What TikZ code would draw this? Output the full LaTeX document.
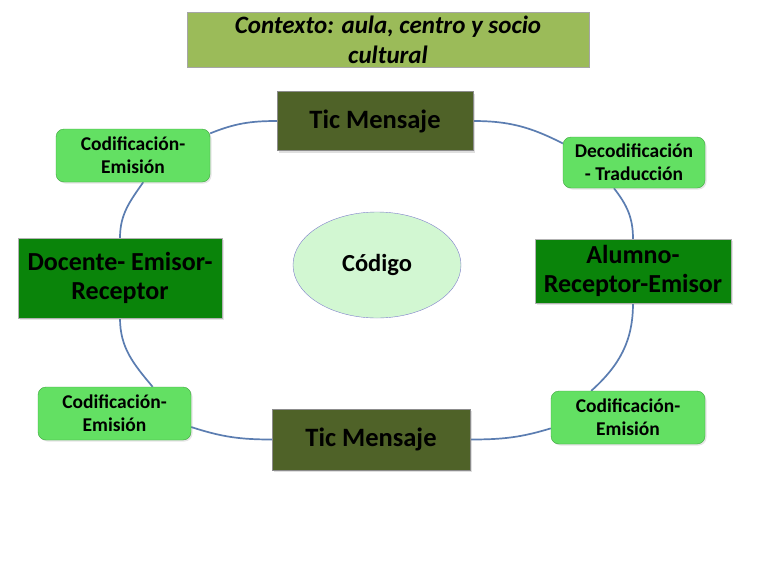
\documentclass[tikz,border=0pt]{standalone}
\usepackage{fontspec}
\setmainfont{Carlito}
\usetikzlibrary{positioning, shapes.geometric, shadows}
\definecolor{ctxgreen}{HTML}{9BBB59}
\definecolor{ticolive}{HTML}{4F6228}
\definecolor{rolegreen}{HTML}{0A840A}
\definecolor{steplight}{HTML}{63E063}
\definecolor{stepborder}{HTML}{3FA63F}
\definecolor{codefill}{HTML}{D2F7D2}
\definecolor{ringblue}{HTML}{5B7DB1}
\pgfdeclarelayer{bg}
\pgfsetlayers{bg,main}
\tikzset{
    ctx_box/.style={draw=black!35, fill=ctxgreen, minimum width=402pt, minimum height=55pt, inner sep=0pt, align=center, font=\bfseries\itshape\fontsize{25}{30}\selectfont},
    tic_box/.style={draw=black!45, fill=ticolive, minimum width=196pt, minimum height=59pt, inner sep=0pt, font=\bfseries\fontsize{26.5}{30}\selectfont, drop shadow={opacity=0.25, shadow xshift=2pt, shadow yshift=-2pt}},
    role_box/.style={draw=black!30, fill=rolegreen, inner sep=0pt, align=center, font=\bfseries\fontsize{26}{29.5}\selectfont, drop shadow={opacity=0.2, shadow xshift=2pt, shadow yshift=-2pt}},
    step_box/.style={draw=stepborder, fill=steplight, rounded corners=8pt, minimum width=154pt, minimum height=53pt, inner sep=0pt, align=center, font=\bfseries\fontsize{19.5}{23}\selectfont, drop shadow={opacity=0.2, shadow xshift=1.5pt, shadow yshift=-1.5pt}},
    code_node/.style={ellipse, draw=black!40!blue!50, fill=codefill, minimum width=168pt, minimum height=106pt, inner sep=0pt, font=\bfseries\fontsize{24.5}{28}\selectfont},
    ring_edge/.style={line width=1.7pt, ringblue}
}

\begin{document}
\begin{tikzpicture}[x=1pt, y=1pt]
    \useasboundingbox (0,0) rectangle (768,-576);
    % context
    \node[ctx_box] (ctx) at (388,-39.5) {Contexto: aula, centro y socio\\cultural};
    % message boxes
    \node[tic_box] (tictop) at (375,-121) {Tic Mensaje};
    \node[tic_box, minimum width=198pt, minimum height=61pt] (ticbot) at (371,-439.5) {Tic Mensaje};
    % sender / receiver
    \node[role_box, minimum width=204pt, minimum height=80pt] (docente) at (120,-278) {Docente- Emisor-\\Receptor};
    \node[role_box, minimum width=196pt, minimum height=64pt] (alumno) at (633,-271) {Alumno-\\Receptor-Emisor};
    % coding steps
    \node[step_box] (codtl) at (133,-155.5) {Codificación-\\Emisión};
    \node[step_box, minimum width=142pt, minimum height=51pt] (decod) at (634,-162.5) {Decodificación\\- Traducción};
    \node[step_box, minimum width=153pt] (codbl) at (114.5,-413.5) {Codificación-\\Emisión};
    \node[step_box] (codbr) at (628,-417.5) {Codificación-\\Emisión};
    % code
    \node[code_node] (codigo) at (377,-265) {Código};
    % ring
    \begin{pgfonlayer}{bg}
        \fill[white] (0,0) rectangle (768,-576);
        \draw[ring_edge] (tictop.west) to[out=180, in=22] (codtl.16);
        \draw[ring_edge] (codtl.-69) to[out=-125, in=90] (docente.north);
        \draw[ring_edge] (docente.south) to[out=-90, in=130] (codbl.35);
        \draw[ring_edge] (codbl.-10) to[out=-18, in=180] (ticbot.west);
        \draw[ring_edge] (ticbot.east) to[out=0, in=-163] (codbr.188);
        \draw[ring_edge] (codbr.144) to[out=42, in=-90] (alumno.south);
        \draw[ring_edge] (alumno.north) to[out=90, in=-52] (decod.232);
        \draw[ring_edge] (decod.165) to[out=153, in=0] (tictop.east);
    \end{pgfonlayer}
\end{tikzpicture}
\end{document}
